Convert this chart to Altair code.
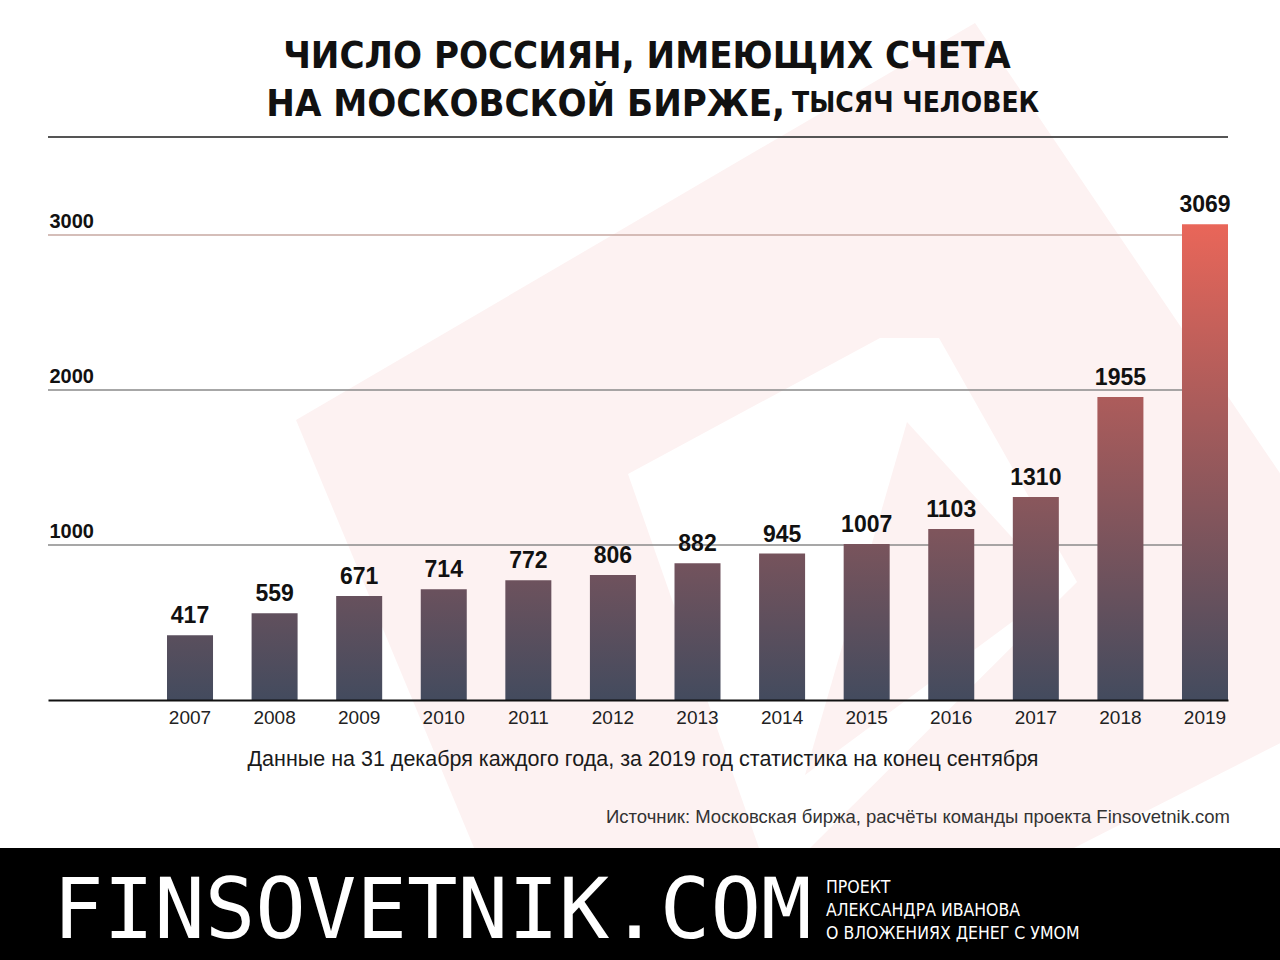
import altair as alt
import pandas as pd

# ---------------- data ----------------
years = ["2007", "2008", "2009", "2010", "2011", "2012", "2013",
         "2014", "2015", "2016", "2017", "2018", "2019"]
values = [417, 559, 671, 714, 772, 806, 882, 945, 1007, 1103, 1310, 1955, 3069]
y_ticks = [1000, 2000, 3000]

title_line1 = "ЧИСЛО РОССИЯН, ИМЕЮЩИХ СЧЕТА"
title_line2_main = "НА МОСКОВСКОЙ БИРЖЕ,"
title_line2_unit = "ТЫСЯЧ ЧЕЛОВЕК"
note_text = "Данные на 31 декабря каждого года, за 2019 год статистика на конец сентября"
source_text = "Источник: Московская биржа, расчёты команды проекта Finsovetnik.com"
brand_text = "FINSOVETNIK.COM"
tagline = ["ПРОЕКТ", "АЛЕКСАНДРА ИВАНОВА", "О ВЛОЖЕНИЯХ ДЕНЕГ С УМОМ"]

# faint background logo outline (page pixels)
logo_outer = [(975, 23), (1416, 674), (579, 1100), (296, 420)]
logo_inner = [(880, 338), (939, 338), (1077, 582), (810, 848), (759, 848), (628, 474)]
logo_counter = [(907, 422), (1058, 588), (805, 775)]

df = pd.DataFrame({"year": years, "value": values})
grid_df = pd.DataFrame({"v": y_ticks})

# ---------------- layout / style ----------------
W, H = 1180, 540
OX, OY = 48, 160
Y_MAX = 3484
FONT = "Liberation Sans"
BOTTOM_C = (0x43, 0x4B, 0x5E)
TOP_C = (0xE9, 0x66, 0x59)
PINK = "#fdf2f2"
vmax = max(values)


def mix(t):
    c = [round(b + (a - b) * t) for a, b in zip(TOP_C, BOTTOM_C)]
    return "#%02x%02x%02x" % tuple(c)


def poly(pts):
    ring = [[x - OX, y - OY] for x, y in pts]
    ring.append(ring[0])
    return {"type": "Feature", "properties": {},
            "geometry": {"type": "Polygon", "coordinates": [ring]}}


def logo_layer(pts, fill):
    return alt.Chart(alt.Data(values=[poly(pts)])).mark_geoshape(
        fill=fill, stroke=None, strokeWidth=0, clip=False
    ).project(type="identity", scale=1, translate=[0, 0])


x_scale = alt.Scale(domain=years, paddingInner=0.456, paddingOuter=0.7035, align=1)
y_scale = alt.Scale(domain=[0, Y_MAX], nice=False, zero=True)

x_axis = alt.Axis(orient="bottom", ticks=False, domainColor="#111",
                  domainWidth=2, labelFont=FONT, labelFontSize=19,
                  labelColor="#222", labelPadding=8, labelAngle=0,
                  grid=False, title=None, zindex=1)
y_axis = alt.Axis(orient="left", values=y_ticks, format="d", grid=False,
                  domain=False, ticks=False, tickSize=0,
                  labelAlign="left", labelBaseline="alphabetic",
                  labelPadding=-1, labelOffset=-8, labelFont=FONT,
                  labelFontSize=20, labelFontWeight="bold",
                  labelColor="#111", title=None, zindex=1)

X = alt.X("year:N", scale=x_scale, axis=x_axis)
Y = alt.Y("value:Q", scale=y_scale, axis=y_axis)

grid = alt.Chart(grid_df).mark_rule(strokeWidth=1.5).encode(
    y=alt.Y("v:Q", scale=y_scale, axis=y_axis),
    color=alt.condition("datum.v === 3000", alt.value("#c7a8a2"), alt.value("#8a8a8a")),
)

# bars with a gradient that runs in absolute height
bar_layers = []
for yr, v in zip(years, values):
    grad = alt.Gradient(
        gradient="linear",
        stops=[alt.GradientStop(color=mix(0), offset=0),
               alt.GradientStop(color=mix(v / vmax), offset=1)],
        x1=0, x2=0, y1=1, y2=0,
    )
    bar_layers.append(
        alt.Chart(df[df["year"] == yr]).mark_bar(color=grad).encode(x=X, y=Y)
    )

labels = alt.Chart(df).mark_text(
    font=FONT, fontSize=23, fontWeight="bold", color="#111",
    baseline="alphabetic", dy=-12,
).encode(x=X, y=Y, text=alt.Text("value:Q", format="d"))

one = pd.DataFrame({"k": [0]})

footer = alt.Chart(one).mark_rect(color="#000000").encode(
    x=alt.value(-OX), x2=alt.value(1280 - OX), y=alt.value(848 - OY), y2=alt.value(960 - OY)
)
title_rule = alt.Chart(one).mark_rule(color="#555555", strokeWidth=2).encode(
    x=alt.value(0), x2=alt.value(W), y=alt.value(137 - OY)
)

TITLE_FONT = "DejaVu Sans Condensed"
t1 = alt.Chart(pd.DataFrame({"t": [title_line1]})).mark_text(
    font=TITLE_FONT, fontSize=38, fontWeight="bold", color="#111",
    align="center", baseline="alphabetic",
).encode(text="t:N", x=alt.value(647 - OX), y=alt.value(68 - OY))
t2 = alt.Chart(pd.DataFrame({"t": [title_line2_main]})).mark_text(
    font=TITLE_FONT, fontSize=38, fontWeight="bold", color="#111",
    align="right", baseline="alphabetic",
).encode(text="t:N", x=alt.value(785 - OX), y=alt.value(116 - OY))
t3 = alt.Chart(pd.DataFrame({"t": [title_line2_unit]})).mark_text(
    font=TITLE_FONT, fontSize=28, fontWeight="bold", color="#111",
    align="left", baseline="alphabetic",
).encode(text="t:N", x=alt.value(792 - OX), y=alt.value(112 - OY))

note = alt.Chart(pd.DataFrame({"t": [note_text]})).mark_text(
    font=FONT, fontSize=21.5, color="#1a1a1a", align="center", baseline="alphabetic",
).encode(text="t:N", x=alt.value(643 - OX), y=alt.value(766 - OY))
source = alt.Chart(pd.DataFrame({"t": [source_text]})).mark_text(
    font=FONT, fontSize=18.5, color="#333", align="right", baseline="alphabetic",
).encode(text="t:N", x=alt.value(1230 - OX), y=alt.value(823 - OY))

brand = alt.Chart(pd.DataFrame({"t": [brand_text]})).mark_text(
    font="DejaVu Sans Mono", fontSize=84, color="#ffffff", align="left",
    baseline="alphabetic",
).encode(text="t:N", x=alt.value(53 - OX), y=alt.value(938 - OY))
tag = alt.Chart(one).mark_text(
    font="DejaVu Sans Condensed", fontSize=17.5, color="#ffffff", align="left",
    baseline="alphabetic", lineHeight=23,
).encode(text=alt.value(tagline), x=alt.value(826 - OX), y=alt.value(893 - OY))

chart = alt.layer(
    logo_layer(logo_outer, PINK),
    logo_layer(logo_inner, "#ffffff"),
    logo_layer(logo_counter, PINK),
    footer, title_rule, t1, t2, t3, note, source, brand, tag,
    grid, *bar_layers, labels,
).properties(
    width=W, height=H,
    padding={"left": OX, "top": OY, "right": 1280 - OX - W, "bottom": 960 - OY - H},
    autosize=alt.AutoSizeParams(type="none"),
    background="#ffffff",
).configure_view(stroke=None)

chart.save("out.html", embed_options={"renderer": "svg", "actions": False})
